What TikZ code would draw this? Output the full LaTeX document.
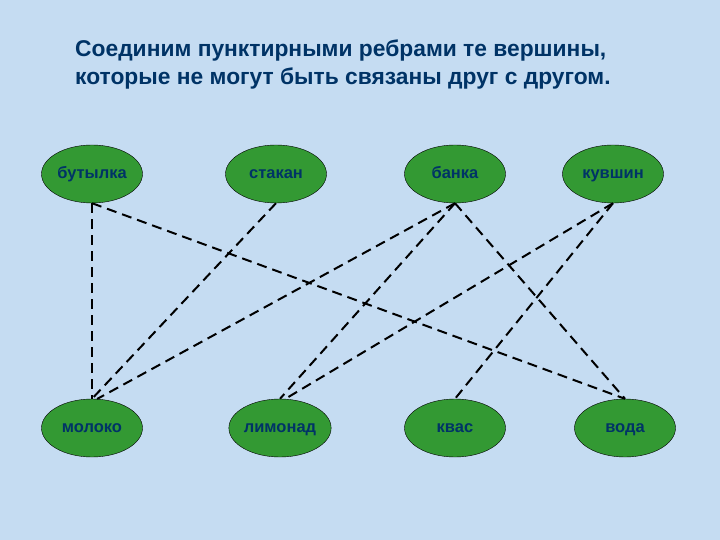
\documentclass[tikz,border=0pt]{standalone}
\usepackage{fontspec}
\setmainfont{Liberation Sans}
\usetikzlibrary{shapes.geometric}
\definecolor{bg}{HTML}{C5DCF2}
\definecolor{nodeg}{HTML}{339933}
\definecolor{txt}{HTML}{003366}
\begin{document}
\begin{tikzpicture}[x=1pt,y=-1pt,
  vert/.style={ellipse,draw=black,fill=nodeg,minimum width=101pt,minimum height=58pt,inner sep=0pt,text=txt,font=\bfseries\fontsize{16.5}{16.5}\selectfont,text height=12pt,text depth=3pt},
  edge/.style={line width=2pt,dash pattern=on 10pt off 6pt}]
\fill[bg] (0,0) rectangle (720,540);
\node[anchor=north west,align=left,text=txt,font=\bfseries\fontsize{22.8}{28}\selectfont,inner sep=0pt] (title) at (75,40) {Соединим пунктирными ребрами те вершины,\\которые не могут быть связаны друг с другом.};
\node[vert] (a) at (92,174) {бутылка};
\node[vert] (b) at (276,174) {стакан};
\node[vert] (c) at (455,174) {банка};
\node[vert] (d) at (613,174) {кувшин};
\node[vert] (e) at (92,428) {молоко};
\node[vert] (f) at (280,428) {лимонад};
\node[vert] (g) at (455,428) {квас};
\node[vert] (h) at (625,428) {вода};
\draw[edge] (a.south) -- (e.north);
\draw[edge] (a.south) -- (h.north);
\draw[edge] (b.south) -- (e.north);
\draw[edge] (c.south) -- (e.80);
\draw[edge] (c.south) -- (f.north);
\draw[edge] (c.south) -- (h.north);
\draw[edge] (d.south) -- (f.80);
\draw[edge] (d.south) -- (g.north);
\end{tikzpicture}
\end{document}
